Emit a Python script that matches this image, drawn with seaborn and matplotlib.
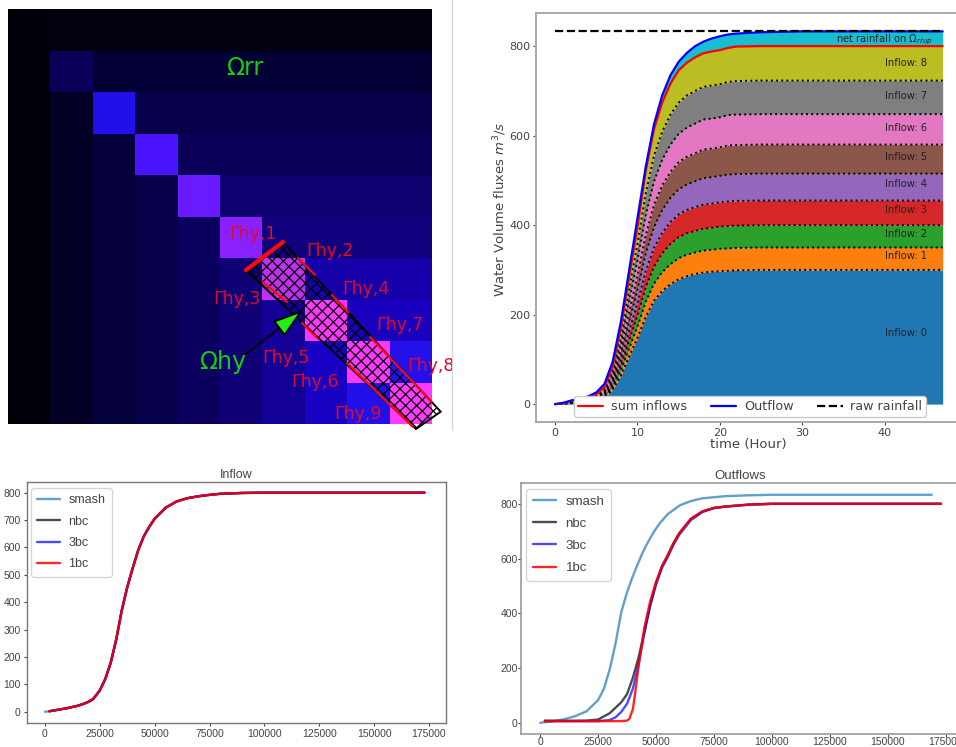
import matplotlib
matplotlib.use("Agg")
import matplotlib.pyplot as plt
import numpy as np
import seaborn as sns
from matplotlib.colors import LinearSegmentedColormap
from matplotlib.patches import FancyArrowPatch, Polygon
from matplotlib.transforms import Bbox

W, H = 956, 747

# accumulated drainage style grid, values on a blue to magenta scale
grid = [
    [.010, .020, .020, .020, .020, .020, .020, .020, .020, .020],
    [.010, .090, .055, .055, .055, .055, .055, .055, .055, .055],
    [.010, .040, .250, .075, .075, .075, .075, .075, .075, .075],
    [.010, .040, .060, .330, .090, .090, .090, .090, .090, .090],
    [.010, .040, .060, .075, .380, .110, .110, .110, .110, .110],
    [.010, .040, .060, .075, .095, .430, .125, .125, .125, .125],
    [.010, .040, .060, .075, .095, .120, .490, .170, .170, .170],
    [.010, .040, .060, .075, .095, .120, .150, .560, .190, .190],
    [.010, .040, .060, .075, .095, .120, .150, .195, .560, .260],
    [.010, .040, .060, .075, .095, .120, .150, .195, .250, .570],
]
grid_stops = [0, .02, .06, .12, .19, .25, .33, .38, .43, .49, .56, 1]
grid_colors = ["#000008", "#00000e", "#04003c", "#100078", "#1800c0", "#2010ea", "#4a14ff", "#6a1aff",
               "#8a20ff", "#c030f0", "#ff38ff", "#ffffff"]

hours = [0, 1, 2, 3, 4, 5, 6, 7, 8, 9, 10, 11, 12, 13, 14, 15, 16, 17, 18, 19, 20, 21, 22, 25, 30, 40, 47]
inflow_0 = [0, 1, 3, 4, 6, 8, 14, 32, 64, 107, 148, 195, 231, 253, 268, 279, 286, 291, 294, 296, 297, 298, 299, 300, 300, 300, 300]
inflow_1 = [0, 0, 0, 1, 1, 1, 2, 5, 11, 18, 25, 33, 38, 42, 45, 47, 48, 48, 49, 49, 50, 50, 50, 50, 50, 50, 50]
inflow_2 = [0, 0, 0, 1, 1, 1, 2, 5, 11, 18, 25, 33, 38, 42, 45, 47, 48, 48, 49, 49, 50, 50, 50, 50, 50, 50, 50]
inflow_3 = [0, 0, 0, 1, 1, 2, 3, 6, 12, 20, 27, 36, 42, 46, 49, 51, 52, 53, 54, 54, 54, 55, 55, 55, 55, 55, 55]
inflow_4 = [0, 0, 1, 1, 1, 2, 3, 6, 13, 21, 30, 39, 46, 51, 54, 56, 57, 58, 59, 59, 59, 60, 60, 60, 60, 60, 60]
inflow_5 = [0, 0, 1, 1, 1, 2, 3, 7, 14, 23, 32, 42, 50, 55, 58, 61, 62, 63, 64, 64, 64, 65, 65, 65, 65, 65, 65]
inflow_6 = [0, 0, 1, 1, 1, 2, 3, 7, 14, 24, 34, 44, 52, 57, 61, 63, 65, 66, 67, 67, 67, 68, 68, 68, 68, 68, 68]
inflow_7 = [0, 0, 1, 1, 1, 2, 4, 8, 16, 27, 37, 49, 58, 63, 67, 70, 72, 73, 73, 74, 74, 74, 75, 75, 75, 75, 75]
inflow_8 = [0, 0, 1, 1, 1, 2, 4, 8, 16, 27, 38, 50, 59, 65, 69, 72, 73, 75, 75, 76, 76, 76, 77, 77, 77, 77, 77]
outflow = [0, 3, 8, 12, 17, 26, 45, 95, 185, 300, 415, 530, 625, 690, 735, 765, 785, 800, 810, 817, 822, 826, 828, 831, 833, 833, 833]
raw_rainfall = [833] * len(hours)
layer_labels = ["Inflow: 0", "Inflow: 1", "Inflow: 2", "Inflow: 3", "Inflow: 4", "Inflow: 5", "Inflow: 6", "Inflow: 7", "Inflow: 8"]
label_levels = [158, 330, 380, 433, 491, 553, 618, 688, 763]

inflow_t = [0, 2000, 5000, 10000, 15000, 18000, 20000, 22000, 25000, 27500, 30000, 32500, 35000, 37500, 40000,
            42500, 45000, 47500, 50000, 55000, 60000, 65000, 70000, 75000, 80000, 90000, 100000, 173000]
inflow_q = [0, 2, 6, 13, 22, 30, 37, 47, 78, 120, 180, 265, 370, 455, 525,
            590, 640, 675, 705, 745, 768, 780, 787, 792, 796, 799, 800, 800]

smash_t = [0, 5000, 10000, 15000, 20000, 25000, 27500, 30000, 32500, 35000, 37300, 39500, 41600, 44000, 46000,
           49000, 51700, 55000, 60400, 65000, 70000, 80000, 90000, 100000, 169000]
smash_q = [0, 5, 12, 24, 42, 83, 125, 195, 290, 405, 472, 525, 570, 618, 652,
           697, 730, 762, 795, 810, 820, 828, 831, 833, 833]
nbc_t = [2000, 10000, 20000, 25000, 30000, 35000, 37500, 40000, 42500, 45000, 47500, 50000, 52500, 55000, 57500,
         60000, 65000, 70000, 75000, 80000, 90000, 100000, 173000]
nbc_q = [8, 7, 8, 12, 35, 75, 105, 165, 240, 335, 430, 510, 570, 610, 655,
         692, 745, 772, 785, 790, 797, 800, 800]
bc3_t = [2000, 25000, 30000, 32500, 35000, 37500, 40000, 42500, 45000, 47500, 50000, 52500, 55000, 57500,
         60000, 65000, 70000, 75000, 80000, 90000, 100000, 173000]
bc3_q = [6, 6, 10, 20, 40, 70, 125, 215, 330, 430, 505, 565, 605, 650,
         687, 740, 770, 784, 790, 797, 800, 800]
bc1_t = [2000, 30000, 35000, 37500, 38500, 40000, 41000, 42500, 45000, 47500, 50000, 52500, 55000, 57500,
         60000, 65000, 70000, 75000, 80000, 90000, 100000, 173000]
bc1_q = [6, 6, 6, 8, 15, 50, 110, 210, 350, 445, 515, 572, 612, 656,
         692, 745, 772, 785, 790, 797, 800, 800]

sns.set_style("ticks")
plt.rcParams["axes.unicode_minus"] = False
plt.rcParams["hatch.linewidth"] = 0.9
NARROW = "Liberation Sans"
DARK = "#444444"


def px_axes(fig, left, top, right, bottom):
    return fig.add_axes([left / W, 1 - bottom / H, (right - left) / W, (bottom - top) / H])


def fig_xy(x, y):
    return x / W, 1 - y / H


def style_axes(ax, spine="#a8a8a8", width=1.4, size=8.5, family=None, pad=2, length=2.5):
    for s in ax.spines.values():
        s.set_color(spine)
        s.set_linewidth(width)
    ax.tick_params(colors=DARK, labelsize=size, length=length, width=0.8, pad=pad)
    if family:
        for lab in ax.get_xticklabels() + ax.get_yticklabels():
            lab.set_family(family)


fig = plt.figure(figsize=(W / 100, H / 100), dpi=100, facecolor="white")

# top left: grid with the hydraulic domain on top
grid_cmap = LinearSegmentedColormap.from_list("grid", list(zip(grid_stops, grid_colors)))
ax_grid = px_axes(fig, 8, 9, 432, 424)
sns.heatmap(np.array(grid), cmap=grid_cmap, vmin=0, vmax=1, cbar=False,
            xticklabels=False, yticklabels=False, ax=ax_grid)

domain = Polygon([fig_xy(245.7, 270), fig_xy(282.7, 241.7), fig_xy(440.7, 411.7), fig_xy(416, 429)],
                 closed=True, fill=False, hatch="xxx", edgecolor="black", linewidth=1.4,
                 transform=fig.transFigure)
fig.add_artist(domain)

red_edges = [
    ((246, 270), (283, 242), 3.0), ((298, 258), (315, 275), 1.5), ((332, 295), (348, 312), 1.5),
    ((370, 337), (432, 402), 1.5), ((263, 282), (287, 302), 1.5), ((302, 323), (317, 338), 1.5),
    ((347, 363), (413, 427), 1.5),
]
for start, end, lw in red_edges:
    fig.add_artist(plt.Line2D(*zip(fig_xy(*start), fig_xy(*end)), color="#ff0a0a", lw=lw,
                              transform=fig.transFigure))

arrow = FancyArrowPatch(fig_xy(242, 357), fig_xy(303, 310), arrowstyle="-|>,head_length=0.8,head_width=0.25",
                        mutation_scale=24, facecolor="#22ee11", edgecolor="black", linewidth=1.3,
                        transform=fig.transFigure, shrinkA=0, shrinkB=0)
fig.add_artist(arrow)

gamma_labels = [
    ("Γhy,1", 229, 234), ("Γhy,2", 306, 251), ("Γhy,3", 213, 299), ("Γhy,4", 342, 289),
    ("Γhy,7", 376, 325), ("Γhy,5", 262, 358), ("Γhy,6", 291, 382), ("Γhy,8", 407, 366),
    ("Γhy,9", 334, 414),
]
for text, x, y in gamma_labels:
    t = fig.text(*fig_xy(x, y), text, color="#e00a28", fontsize=12.5, ha="left", va="center")
    t.set_clip_box(Bbox([[0, 0], [452, H]]))
    t.set_clip_on(True)
fig.text(*fig_xy(245, 68), "Ωrr", color="#10d010", fontsize=17, ha="center", va="center")
fig.text(*fig_xy(223, 362), "Ωhy", color="#10d010", fontsize=17, ha="center", va="center")
fig.add_artist(plt.Line2D([452 / W, 452 / W], [1 - 430 / H, 1], color="#d8d8d8", lw=1,
                          transform=fig.transFigure))

# top right: stacked inflows
ax_top = px_axes(fig, 536, 13, 960, 422)
layers = [inflow_0, inflow_1, inflow_2, inflow_3, inflow_4, inflow_5, inflow_6, inflow_7, inflow_8]
palette = sns.color_palette("tab10", 10)
tops = np.cumsum(layers, axis=0)
sum_inflows = tops[-1]
gap = np.array(outflow) - sum_inflows
ax_top.stackplot(hours, *layers, gap, colors=palette, linewidth=0)
for level in tops[:-1]:
    sns.lineplot(x=hours, y=level, color="black", linestyle=":", linewidth=1.4, estimator=None, ax=ax_top)
sns.lineplot(x=hours, y=sum_inflows, color="red", linewidth=1.6, label="sum inflows", estimator=None, ax=ax_top)
sns.lineplot(x=hours, y=outflow, color="blue", linewidth=1.6, label="Outflow", estimator=None, ax=ax_top)
sns.lineplot(x=hours, y=raw_rainfall, color="black", linestyle="--", linewidth=1.6, label="raw rainfall",
             estimator=None, ax=ax_top)
for text, level in zip(layer_labels, label_levels):
    ax_top.text(40, level, text, fontsize=7.2, color="#222222", ha="left", va="center")
ax_top.text(45.8, 815, r"net rainfall on $\Omega_{rrup}$", fontsize=7.2, color="#222222", ha="right", va="center")
ax_top.set_xlim(-2.3, 49.1)
ax_top.set_ylim(-40, 874)
ax_top.set_xticks([0, 10, 20, 30, 40])
ax_top.set_yticks([0, 200, 400, 600, 800])
ax_top.set_xlabel("time (Hour)", fontsize=9.5, color=DARK, labelpad=0)
ax_top.set_ylabel(r"Water Volume fluxes $m^3/s$", fontsize=9.5, color=DARK, labelpad=0.5, y=0.52)
style_axes(ax_top, size=8, pad=1.5)
ax_top.legend(loc="lower left", bbox_to_anchor=((574 - 536) / 424, (422 - 417) / 409, (926 - 574) / 424, 0.06),
              mode="expand", ncol=3, fontsize=9.2, frameon=True, framealpha=1, borderpad=0.3,
              labelcolor=DARK, borderaxespad=0, handlelength=2.0, handletextpad=0.6, columnspacing=1.0)

# bottom panels
line_colors = ["#1f77b4", "black", "blue", "red"]
line_alphas = [0.7, 0.7, 0.7, 0.85]
line_names = ["smash", "nbc", "3bc", "1bc"]
line_starts = [0, 1, 1, 1]

ax_in = px_axes(fig, 27, 482, 446, 723)
for name, color, alpha, start in zip(line_names, line_colors, line_alphas, line_starts):
    sns.lineplot(x=inflow_t[start:], y=inflow_q[start:], color=color, alpha=alpha, linewidth=1.7,
                 label=name, estimator=None, ax=ax_in)
ax_in.set_xlim(-8200, 182800)
ax_in.set_ylim(-41, 839)
ax_in.set_xticks(range(0, 175001, 25000))
ax_in.set_yticks(range(0, 801, 100))
ax_in.set_title("Inflow", fontsize=9, color=DARK, family=NARROW, pad=3)
style_axes(ax_in, spine="#777777", width=1.0, size=7.5, family=NARROW)
ax_in.legend(loc="upper left", prop={"family": NARROW, "size": 9}, labelcolor=DARK,
             frameon=True, bbox_to_anchor=(4 / 419, 1 - 6 / 241), borderaxespad=0, borderpad=0.5,
             handlelength=1.8, handletextpad=0.7, labelspacing=0.75)

ax_out = px_axes(fig, 521, 483, 960, 734)
series = [(smash_t, smash_q), (nbc_t, nbc_q), (bc3_t, bc3_q), (bc1_t, bc1_q)]
for name, color, alpha, (t, q) in zip(line_names, line_colors, line_alphas, series):
    sns.lineplot(x=t, y=q, color=color, alpha=alpha, linewidth=1.7, label=name, estimator=None, ax=ax_out)
ax_out.set_xlim(-8300, 181200)
ax_out.set_ylim(-41, 876)
ax_out.set_xticks(range(0, 175001, 25000))
ax_out.set_yticks(range(0, 801, 200))
ax_out.set_title("Outflows", fontsize=9.5, color=DARK, family=NARROW, pad=3)
style_axes(ax_out, spine="#999999", width=1.2, size=7.5, family=NARROW, pad=0.5, length=2)
ax_out.legend(loc="upper left", prop={"family": NARROW, "size": 9.5}, labelcolor=DARK,
              frameon=True, bbox_to_anchor=(5 / 439, 1 - 6 / 251), borderaxespad=0, borderpad=0.5,
              handlelength=1.8, handletextpad=0.7, labelspacing=0.75)

fig.savefig("out.png", dpi=100)
plt.close(fig)
